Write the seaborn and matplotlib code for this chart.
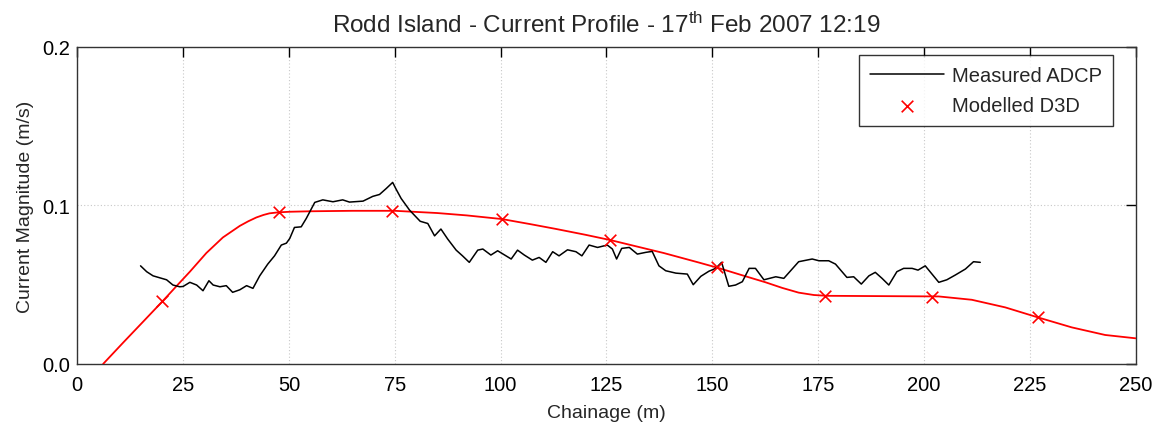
import matplotlib
matplotlib.use("Agg")
import matplotlib.pyplot as plt
import seaborn as sns
import pandas as pd

# Measured ADCP profile
adcp_x = [14.95, 16.4, 17.9, 21.1, 22.6, 24.2, 25.0, 26.6, 28.2, 29.7, 31.1, 32.1, 33.7, 35.2,
          36.7, 38.4, 40.0, 41.5, 43.1, 45.0, 46.6, 48.2, 49.4, 50.2, 51.3, 52.9, 54.1, 56.1,
          58.0, 60.4, 62.7, 64.3, 67.5, 69.8, 71.4, 73.0, 74.5, 75.3, 76.5, 78.5, 81.0, 82.8,
          84.4, 85.9, 87.5, 89.5, 91.0, 92.6, 94.6, 95.8, 97.7, 99.3, 102.5, 104.0, 105.6,
          107.5, 109.1, 110.7, 112.3, 113.8, 115.8, 117.8, 119.2, 120.9, 122.9, 125.2, 126.4,
          127.4, 128.6, 130.4, 132.3, 134.3, 135.8, 137.4, 139.0, 141.4, 144.1, 145.5, 147.3,
          149.2, 150.8, 152.2, 153.9, 155.5, 157.1, 158.7, 160.2, 162.2, 165.0, 166.9, 170.4,
          173.6, 175.2, 177.5, 179.1, 181.8, 183.4, 185.2, 187.0, 188.5, 190.1, 191.7, 193.6,
          195.2, 197.2, 198.6, 200.3, 203.5, 205.4, 207.4, 209.8, 211.7, 213.3]
adcp_y = [0.0619, 0.0582, 0.0556, 0.0531, 0.0498, 0.0487, 0.0489, 0.0515, 0.0498, 0.0462,
          0.0525, 0.0498, 0.0487, 0.0494, 0.0452, 0.0468, 0.0494, 0.0477, 0.0556, 0.0630,
          0.0682, 0.0750, 0.0762, 0.0792, 0.0861, 0.0865, 0.0918, 0.1019, 0.1035, 0.1023,
          0.1035, 0.1021, 0.1027, 0.1057, 0.1069, 0.1107, 0.1145, 0.1103, 0.1044, 0.0970,
          0.0900, 0.0886, 0.0808, 0.0851, 0.0788, 0.0718, 0.0682, 0.0641, 0.0718, 0.0725,
          0.0687, 0.0714, 0.0662, 0.0718, 0.0687, 0.0655, 0.0672, 0.0641, 0.0708, 0.0682,
          0.0720, 0.0708, 0.0682, 0.0750, 0.0735, 0.0750, 0.0725, 0.0662, 0.0729, 0.0735,
          0.0693, 0.0704, 0.0710, 0.0619, 0.0588, 0.0573, 0.0567, 0.0500, 0.0553, 0.0585,
          0.0603, 0.0641, 0.0490, 0.0498, 0.0519, 0.0603, 0.0603, 0.0531, 0.0550, 0.0540,
          0.0645, 0.0662, 0.0651, 0.0651, 0.0630, 0.0546, 0.0550, 0.0504, 0.0556, 0.0578,
          0.0540, 0.0498, 0.0582, 0.0603, 0.0603, 0.0592, 0.0619, 0.0515, 0.0531, 0.0561,
          0.0599, 0.0645, 0.0641]

# Modelled D3D curve
model_x = [6.1, 10.85, 15.6, 20.3, 23.4, 25.0, 26.6, 30.5, 34.4, 38.4, 40.4, 42.3, 44.0, 45.4,
           47.4, 50.2, 55, 65, 75, 85, 92, 100.3, 107, 113, 120, 126, 132, 138.5, 146.8, 151.5,
           157, 162.6, 166.5, 170.4, 174, 177, 190, 203.5, 211.3, 219.2, 226.9, 234.9, 242.8,
           250]
model_y = [0.0, 0.0135, 0.0268, 0.0400, 0.0490, 0.0536, 0.0582, 0.0700, 0.0798, 0.0871,
           0.0900, 0.0924, 0.0940, 0.0950, 0.0956, 0.0960, 0.0963, 0.0966, 0.0966, 0.0952,
           0.0937, 0.0914, 0.0882, 0.0852, 0.0815, 0.0781, 0.0742, 0.0700, 0.0640, 0.0605,
           0.0560, 0.0515, 0.0480, 0.0450, 0.0435, 0.0430, 0.0428, 0.0426, 0.0405, 0.0357,
           0.0294, 0.0231, 0.0183, 0.0162]

# Modelled D3D output points (markers)
marker_x = [20.0, 47.6, 74.3, 100.3, 125.9, 151.2, 176.7, 201.9, 226.9]
marker_y = [0.0397, 0.0956, 0.0966, 0.0914, 0.0781, 0.0609, 0.0430, 0.0424, 0.0294]

x_ticks = [0, 25, 50, 75, 100, 125, 150, 175, 200, 225, 250]
y_ticks = [0.0, 0.1, 0.2]
y_tick_labels = ["0.0", "0.1", "0.2"]

sns.set_style("white")
plt.rcParams['font.family'] = ['Liberation Sans', 'DejaVu Sans']
plt.rcParams['mathtext.fontset'] = 'custom'
plt.rcParams['mathtext.rm'] = 'Liberation Sans'
plt.rcParams['mathtext.it'] = 'Liberation Sans'

fig = plt.figure(figsize=(11.6, 4.27), dpi=100)
ax = fig.add_axes([0.0666, 0.1452, 0.9124, 0.7428])

adcp = pd.DataFrame({"x": adcp_x, "y": adcp_y})
model = pd.DataFrame({"x": model_x, "y": model_y})
marks = pd.DataFrame({"x": marker_x, "y": marker_y})

sns.lineplot(data=model, x="x", y="y", ax=ax, color="#ff0000", lw=1.3,
             sort=False, estimator=None, legend=False, zorder=3)
sns.lineplot(data=adcp, x="x", y="y", ax=ax, color="black", lw=1.1,
             sort=False, estimator=None, label="Measured ADCP", zorder=4)
sns.scatterplot(data=marks, x="x", y="y", ax=ax, marker="x", color="#ff0000",
                s=70, linewidth=1.2, label="Modelled D3D", zorder=5)

ax.set_xlim(0, 250)
ax.set_ylim(0, 0.2)
ax.set_xticks(x_ticks)
ax.set_yticks(y_ticks)
ax.set_yticklabels(y_tick_labels)
ax.grid(True, color="#c8c8c8", linestyle=(0, (1, 2)), linewidth=0.8)
ax.tick_params(direction="in", length=7, width=1, top=True, right=True,
               labelsize=14.5, colors="black")
ax.tick_params(axis="x", pad=8)
ax.tick_params(axis="y", pad=5)
for s in ax.spines.values():
    s.set_color("#333333")
    s.set_linewidth(1.0)

ax.set_xlabel("Chainage (m)", fontsize=14, labelpad=7)
ax.set_ylabel("Current Magnitude (m/s)", fontsize=14, labelpad=6)
ax.set_title(r"Rodd Island - Current Profile - 17$^{\mathrm{th}}$ Feb 2007 12:19",
             fontsize=17.5, pad=11)

leg = ax.legend(loc="upper right", bbox_to_anchor=(0.979, 0.974), borderaxespad=0,
                fontsize=14.5, frameon=True, fancybox=False, edgecolor="black",
                borderpad=0.55, handlelength=3.7, handletextpad=0.4, labelspacing=0.55)
leg.get_frame().set_linewidth(1.0)

fig.savefig("out.png", dpi=100)
